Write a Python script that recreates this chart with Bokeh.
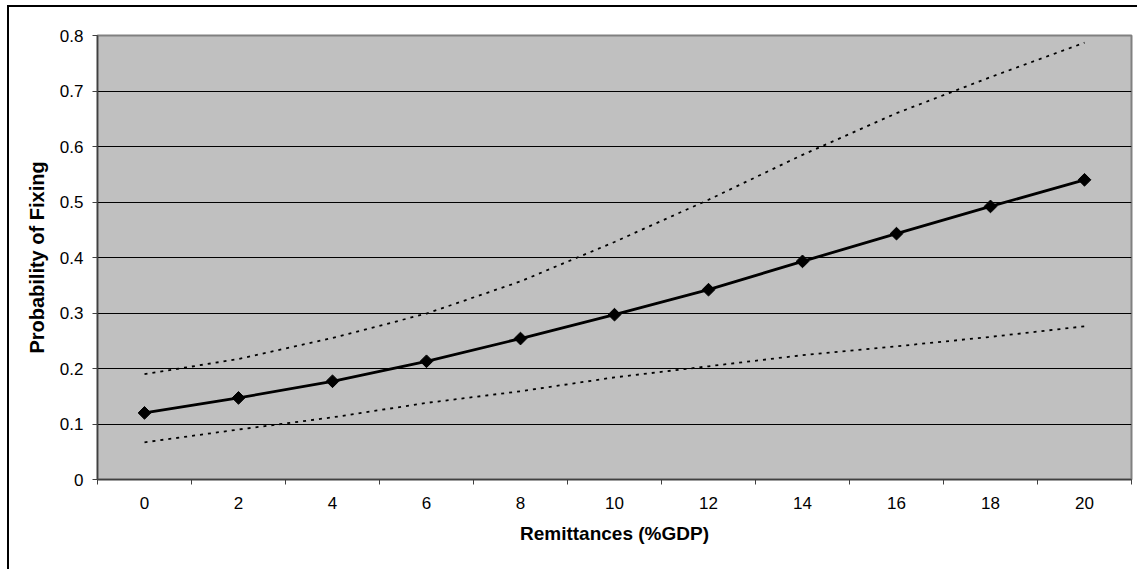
import numpy as np
from bokeh.plotting import figure
from bokeh.models import FixedTicker, Range1d
from bokeh.embed import file_html
from bokeh.resources import INLINE

# ---- data ----
remittances = [0, 2, 4, 6, 8, 10, 12, 14, 16, 18, 20]
prob_fixing = [0.120, 0.147, 0.177, 0.213, 0.254, 0.297, 0.342, 0.393, 0.443, 0.492, 0.540]
upper_bound = [0.190, 0.217, 0.255, 0.299, 0.357, 0.428, 0.504, 0.585, 0.660, 0.725, 0.787]
lower_bound = [0.067, 0.090, 0.112, 0.138, 0.159, 0.184, 0.204, 0.224, 0.240, 0.257, 0.276]
y_ticks = [0, 0.1, 0.2, 0.3, 0.4, 0.5, 0.6, 0.7, 0.8]
y_tick_labels = ["0", "0.1", "0.2", "0.3", "0.4", "0.5", "0.6", "0.7", "0.8"]
x_tick_labels = [str(v) for v in remittances]

FONT = "Liberation Sans"

p = figure(width=1137, height=569, output_backend="svg", toolbar_location=None,
           x_range=Range1d(-1, 21), y_range=Range1d(0, 0.8),
           min_border_left=97, min_border_right=6, min_border_top=35, min_border_bottom=90)

p.background_fill_color = "#C0C0C0"
p.border_fill_color = "white"
p.border_fill_alpha = 0
p.outline_line_color = "#808080"
p.outline_line_width = 2

# outer chart border (left and top edges visible in the reference)
p.styles = {"box-shadow": "inset 7px 5px 0 0 white, inset 9px 7px 0 0 black",
            "background-color": "white"}

# grid
p.xgrid.grid_line_color = None
p.ygrid.ticker = FixedTicker(ticks=y_ticks)
p.ygrid.grid_line_color = "black"
p.ygrid.grid_line_width = 1

# x axis: labels at category centres, tick marks between categories
xa = p.xaxis[0]
xa.ticker = FixedTicker(ticks=remittances, minor_ticks=[v - 1 for v in remittances] + [21])
xa.major_label_overrides = {v: s for v, s in zip(remittances, x_tick_labels)}
xa.major_tick_line_color = None
xa.minor_tick_line_color = "#404040"
xa.minor_tick_in = 0
xa.minor_tick_out = 5
xa.axis_line_color = "#404040"
xa.axis_line_width = 1.5
xa.major_label_text_font = FONT
xa.major_label_text_font_size = "17px"
xa.major_label_text_color = "black"
xa.major_label_standoff = 11
xa.axis_label = "Remittances (%GDP)"
xa.axis_label_text_font = FONT
xa.axis_label_text_font_style = "bold"
xa.axis_label_text_font_size = "19px"
xa.axis_label_text_color = "black"
xa.axis_label_standoff = 11

ya = p.yaxis[0]
ya.ticker = FixedTicker(ticks=y_ticks)
ya.major_label_overrides = {v: s for v, s in zip(y_ticks, y_tick_labels)}
ya.major_tick_line_color = "#404040"
ya.major_tick_in = 0
ya.major_tick_out = 5
ya.minor_tick_line_color = None
ya.axis_line_color = "#404040"
ya.axis_line_width = 1.5
ya.major_label_text_font = FONT
ya.major_label_text_font_size = "17px"
ya.major_label_text_color = "black"
ya.major_label_standoff = 9
ya.axis_label = "Probability of Fixing"
ya.axis_label_text_font = FONT
ya.axis_label_text_font_style = "bold"
ya.axis_label_text_font_size = "20px"
ya.axis_label_text_color = "black"
ya.axis_label_standoff = 9

# confidence bounds (dotted)
p.line(remittances, upper_bound, line_color="black", line_width=1.8, line_dash="3 5")
p.line(remittances, lower_bound, line_color="black", line_width=1.8, line_dash="3 5")

# main line with diamond markers
p.line(remittances, prob_fixing, line_color="black", line_width=2.8)
p.scatter(remittances, prob_fixing, marker="square", size=9, angle=np.pi / 4,
          fill_color="black", line_color="black")

open("out.html", "w").write(file_html(p, INLINE))
